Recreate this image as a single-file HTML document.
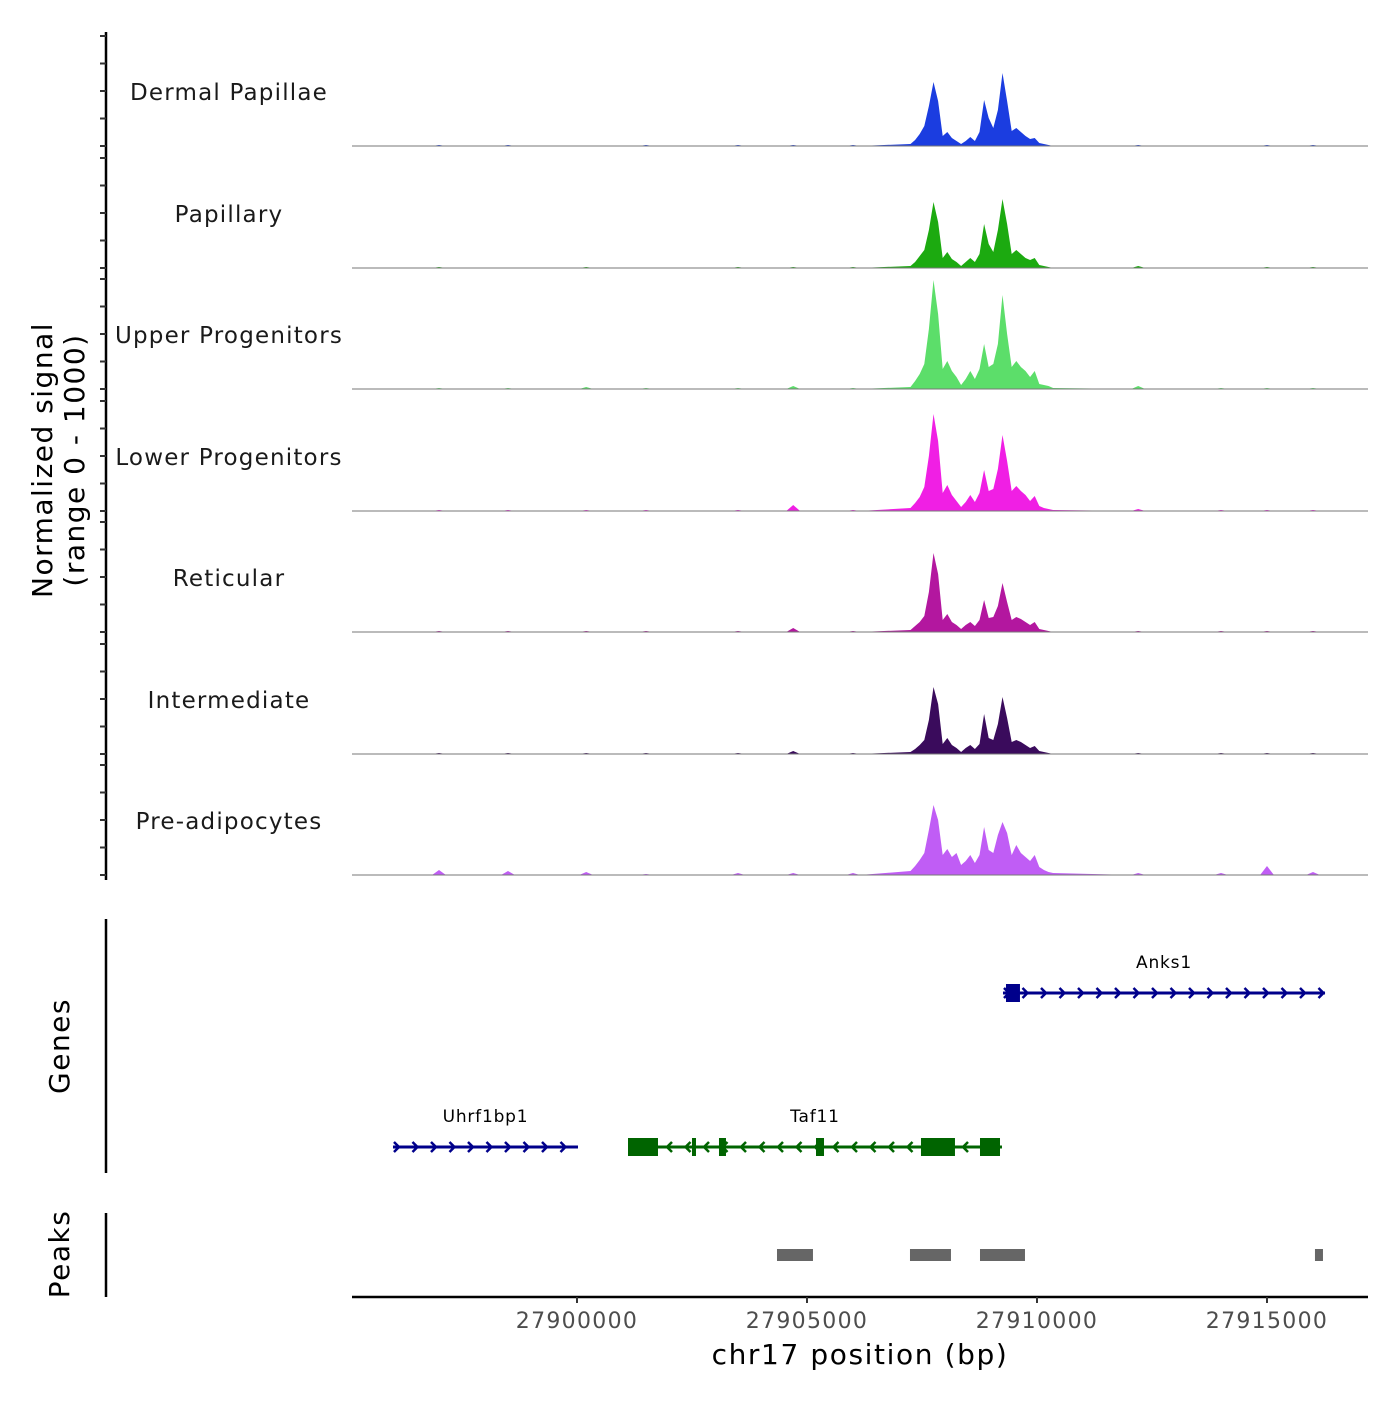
<!DOCTYPE html>
<html><head><meta charset="utf-8"><style>
body{margin:0;background:#fff;}
svg text{font-family:"DejaVu Sans","Liberation Sans",sans-serif;}
</style></head><body>
<svg id="chart" width="1400" height="1400" viewBox="0 0 1400 1400" xmlns="http://www.w3.org/2000/svg">
<g id="tracks"></g>
<g id="axes"></g>
<g id="genes"></g>
<g id="peaks"></g>
</svg>
<script>
const trackNames=["Dermal Papillae","Papillary","Upper Progenitors","Lower Progenitors","Reticular","Intermediate","Pre-adipocytes"];
const trackColors=["#1b3de0","#1caa10","#5cde6a","#f01fe4","#b3179f","#3a0b5c","#c05df5"];
// signal bins start at 27907250, step 100 bp
const binStart=27907250, binStep=100;
const sigDP=[2,6,12,20,40,64,45,10,14,8,5,2,5,9,5,14,46,28,18,36,73,45,15,18,14,10,7,8,3,2,1,0];
const sigPap=[2,6,12,18,38,66,46,10,16,9,6,2,6,10,6,14,44,24,16,38,69,44,14,18,14,10,8,10,3,2,1,0];
const sigUp=[2,8,15,25,60,109,75,20,28,18,12,4,10,18,10,20,45,22,25,45,94,55,22,28,22,18,12,18,5,4,3,1];
const sigLow=[3,8,14,24,55,97,70,18,26,16,10,4,9,16,9,18,41,20,22,42,76,50,20,25,20,16,10,15,5,3,2,1];
const sigRet=[2,6,10,16,40,79,58,12,18,10,7,3,7,10,6,12,32,14,15,26,49,30,12,15,13,10,7,10,3,2,1,0];
const sigInt=[2,5,9,14,34,67,50,10,16,9,6,2,6,9,5,10,40,16,14,30,57,36,12,14,12,9,6,8,3,2,1,0];
const sigPre=[4,9,15,22,45,70,55,20,26,18,22,10,14,20,12,20,48,25,22,40,53,42,20,30,22,18,14,20,8,5,3,2];
const trackSignals=[sigDP,sigPap,sigUp,sigLow,sigRet,sigInt,sigPre];
// background bumps: positions (bp) and heights per track
const bgPos=[27897000,27898500,27900200,27901500,27903500,27904700,27906000,27912200,27914000,27915000,27916000];
const bgDP=[1,1,0,1,1,1,1,1,0,1,1];
const bgPap=[1,0,1,0,1,1,1,2,0,1,1];
const bgUp=[1,1,2,1,1,3,1,3,1,1,1];
const bgLow=[1,1,1,1,1,6,1,2,1,1,1];
const bgRet=[1,1,1,1,1,4,1,1,1,1,1];
const bgInt=[1,1,1,1,1,3,1,1,1,1,1];
const bgPre=[5,4,3,1,2,2,2,2,2,9,3];
const trackBg=[bgDP,bgPap,bgUp,bgLow,bgRet,bgInt,bgPre];
const xTicks=[27900000,27905000,27910000,27915000];
const genes=[
 {name:"Anks1",start:27909261,end:27916261,strand:1,row:0,color:"#00008b",exons:[[27909326,27909630]]},
 {name:"Uhrf1bp1",start:27896000,end:27900022,strand:1,row:1,color:"#00008b",exons:[]},
 {name:"Taf11",start:27901109,end:27909239,strand:-1,row:1,color:"#006400",exons:[[27901109,27901761],[27902500,27902587],[27903087,27903239],[27905196,27905370],[27907478,27908217],[27908761,27909196]]}
];
const peakStarts=[27904348,27907239,27908761,27916043];
const peakEnds=[27905130,27908130,27909739,27916217];

const NS="http://www.w3.org/2000/svg";
function mk(tag,attrs,parent){const e=document.createElementNS(NS,tag);for(const k in attrs)e.setAttribute(k,attrs[k]);parent.appendChild(e);return e;}
const X=g=>352+(g-27895109)*0.046;
const baselines=[146,268,389,511,632,754,875];
const tracksG=document.getElementById('tracks');
trackNames.forEach((nm,t)=>{
  const b=baselines[t];
  const Y=v=>b-v;
  let pts=[];
  const bg=trackBg[t];
  bgPos.forEach((p,i)=>{pts.push([X(p-150),b]);pts.push([X(p),Y(bg[i])]);pts.push([X(p+150),b]);});
  pts.sort((a,c)=>a[0]-c[0]);
  const bgBefore=pts.filter(p=>p[0]<X(binStart));
  const bgAfter=pts.filter(p=>p[0]>X(binStart+binStep*(trackSignals[t].length-1)));
  let all=bgBefore.concat(trackSignals[t].map((v,i)=>[X(binStart+i*binStep),Y(v)])).concat(bgAfter);
  let d="M"+X(27895109)+","+b+" "+all.map(p=>"L"+p[0].toFixed(1)+","+p[1].toFixed(1)).join(" ")+" L"+X(27916300)+","+b+" Z";
  const path=mk('path',{d:d,fill:trackColors[t],stroke:"none"},tracksG);
  
  
  const bl=mk('line',{x1:352,x2:1368,y1:b,y2:b,stroke:"#777","stroke-width":1},tracksG);
  
  
  const lb=mk('text',{x:229,y:b-46,"text-anchor":"middle","font-size":23,"letter-spacing":"1.2",fill:"#1a1a1a"},tracksG);
  lb.textContent=nm;
  
  
});
const ax=document.getElementById('axes');
let l=mk('line',{x1:106,x2:106,y1:32,y2:880,stroke:"#000","stroke-width":2.5},ax);

baselines.forEach(b=>{[0,27.5,55,82.5,110].forEach(o=>{const tk=mk('line',{x1:100,x2:106,y1:b-o,y2:b-o,stroke:"#333","stroke-width":2},ax);
});});
let t1=mk('text',{transform:"translate(52,460) rotate(-90)","text-anchor":"middle","font-size":28,"letter-spacing":"1.5",fill:"#000"},ax);t1.textContent="Normalized signal";

let t2=mk('text',{transform:"translate(84,460) rotate(-90)","text-anchor":"middle","font-size":28,"letter-spacing":"1.5",fill:"#000"},ax);t2.textContent="(range 0 - 1000)";

l=mk('line',{x1:106,x2:106,y1:919,y2:1173,stroke:"#000","stroke-width":2.5},ax);
l=mk('line',{x1:106,x2:106,y1:1213,y2:1297,stroke:"#000","stroke-width":2.5},ax);
let tg=mk('text',{transform:"translate(69,1046) rotate(-90)","text-anchor":"middle","font-size":28,"letter-spacing":"1.5",fill:"#000"},ax);tg.textContent="Genes";

let tp=mk('text',{transform:"translate(69,1254) rotate(-90)","text-anchor":"middle","font-size":28,"letter-spacing":"1.5",fill:"#000"},ax);tp.textContent="Peaks";

l=mk('line',{x1:352,x2:1368,y1:1297,y2:1297,stroke:"#000","stroke-width":2.5},ax);
xTicks.forEach(v=>{const tk=mk('line',{x1:X(v),x2:X(v),y1:1297,y2:1303,stroke:"#333","stroke-width":2},ax);

const tl=mk('text',{x:X(v),y:1328,"text-anchor":"middle","font-size":22,"letter-spacing":"1.3",fill:"#4d4d4d"},ax);tl.textContent=v;
});
let xt=mk('text',{x:860,y:1364,"text-anchor":"middle","font-size":28,"letter-spacing":"1.6",fill:"#000"},ax);xt.textContent="chr17 position (bp)";

const gg=document.getElementById('genes');
genes.forEach(g=>{
  const y=g.row===0?993:1147;
  const grp=mk('g',{},gg);
  
  
  mk('line',{x1:X(g.start),x2:X(g.end),y1:y,y2:y,stroke:g.color,"stroke-width":3},grp);
  for(let p=X(g.start)+4;p<X(g.end)-2;p+=18.5){
    const d=g.strand>0?`M${p-3},${y-5} L${p+2},${y} L${p-3},${y+5}`:`M${p+3},${y-5} L${p-2},${y} L${p+3},${y+5}`;
    mk('path',{d:d,fill:"none",stroke:g.color,"stroke-width":2.5},grp);
  }
  g.exons.forEach(e=>mk('rect',{x:X(e[0]),y:y-9,width:Math.max(3,X(e[1])-X(e[0])),height:18,fill:g.color},grp));
  const tx=mk('text',{x:(X(g.start)+X(g.end))/2,y:y-25,"text-anchor":"middle","font-size":17,"letter-spacing":"0.8",fill:"#000"},grp);tx.textContent=g.name;
});
const pg=document.getElementById('peaks');
peakStarts.forEach((s,i)=>{const r=mk('rect',{x:X(s),y:1249,width:X(peakEnds[i])-X(s),height:12,fill:"#666"},pg);
});
</script>
</body></html>
